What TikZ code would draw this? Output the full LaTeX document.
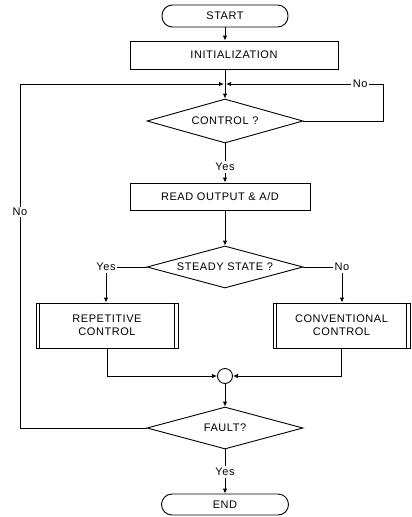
\documentclass[tikz,border=0pt]{standalone}
\usepackage{fontspec}
\setmainfont[LetterSpace=5]{Liberation Sans}
\usetikzlibrary{shapes.geometric,arrows.meta}
\begin{document}
\begin{tikzpicture}[x=1pt,y=-1pt,
  line width=0.9pt,
  every node/.style={font=\fontsize{11}{13}\selectfont},
  term/.style={draw,rounded corners=10.5pt,inner sep=0pt},
  procbox/.style={draw,rectangle,inner sep=0pt},
  dbox/.style={draw,rectangle,inner sep=0pt,align=center,
    append after command={
      ([xshift=4pt]\tikzlastnode.north west) edge[-] ([xshift=4pt]\tikzlastnode.south west)
      ([xshift=-4pt]\tikzlastnode.north east) edge[-] ([xshift=-4pt]\tikzlastnode.south east)}},
  decision/.style={draw,diamond,aspect=3.5,inner sep=0pt},
  lbl/.style={fill=white,inner sep=1.5pt},
  arr/.style={-{Latex[length=5pt,width=4.5pt]}}]
\useasboundingbox (0,0) rectangle (412,517);

\node[term,minimum width=126pt,minimum height=22pt] (start) at (225,16) {START};
\node[procbox,minimum width=208pt,minimum height=28pt] (init) at (234,55) {INITIALIZATION};
\coordinate (j) at (225,84);
\node[decision,minimum width=156pt,minimum height=44pt] (ctrl) at (225,121) {CONTROL ?};
\node[lbl] (yes1) at (225,167) {Yes};
\node[procbox,minimum width=180pt,minimum height=27pt] (read) at (220,196.5) {READ OUTPUT \& A/D};
\node[decision,minimum width=156pt,minimum height=42pt] (steady) at (225,267) {STEADY STATE ?};
\node[lbl] (yesL) at (106,267) {Yes};
\node[lbl] (noR) at (342,267) {No};
\node[dbox,minimum width=142pt,minimum height=45pt] (rep) at (107,325.5) {REPETITIVE\\CONTROL};
\node[dbox,minimum width=137pt,minimum height=45pt] (conv) at (341.5,325.5) {CONVENTIONAL\\CONTROL};
\node[draw,circle,minimum size=15pt,inner sep=0pt] (circ) at (225,376) {};
\node[decision,minimum width=156pt,minimum height=42pt] (fault) at (225,428) {FAULT?};
\node[lbl] (yes3) at (225,472) {Yes};
\node[term,minimum width=127pt,minimum height=21pt] (end) at (225,504.5) {END};

\coordinate (rcb) at (383,121);
\coordinate (rc) at (383,84);
\coordinate (lcb) at (20,428);
\coordinate (lc) at (20,84);

\draw[arr] (start.south) -- (start.south |- init.north);
\draw (init.south -| j) -- (j);
\draw[arr] (j) -- (ctrl.north);
\draw[arr] (ctrl.east) -- (rcb) -- (rc) -- node[lbl,pos=0.146]{No} ([xshift=1pt]j);
\draw (ctrl.south) -- (yes1.north);
\draw[arr] (yes1.south) -- (yes1.south |- read.north);
\draw[arr] (read.south -| j) -- (steady.north);
\draw (steady.west) -- (yesL.east);
\draw[arr] (yesL.south) -- (yesL.south |- rep.north);
\draw (steady.east) -- (noR.west);
\draw[arr] (noR.south) -- (noR.south |- conv.north);
\draw[arr] (rep.south) |- (circ.west);
\draw[arr] (conv.south) |- (circ.east);
\draw[arr] (circ.south) -- (fault.north);
\draw[arr] (fault.west) -- (lcb) -- node[lbl,pos=0.628]{No} (lc) -- ([xshift=-1pt]j);
\draw (fault.south) -- (yes3.north);
\draw[arr] (yes3.south) -- (end.north);
\end{tikzpicture}
\end{document}
